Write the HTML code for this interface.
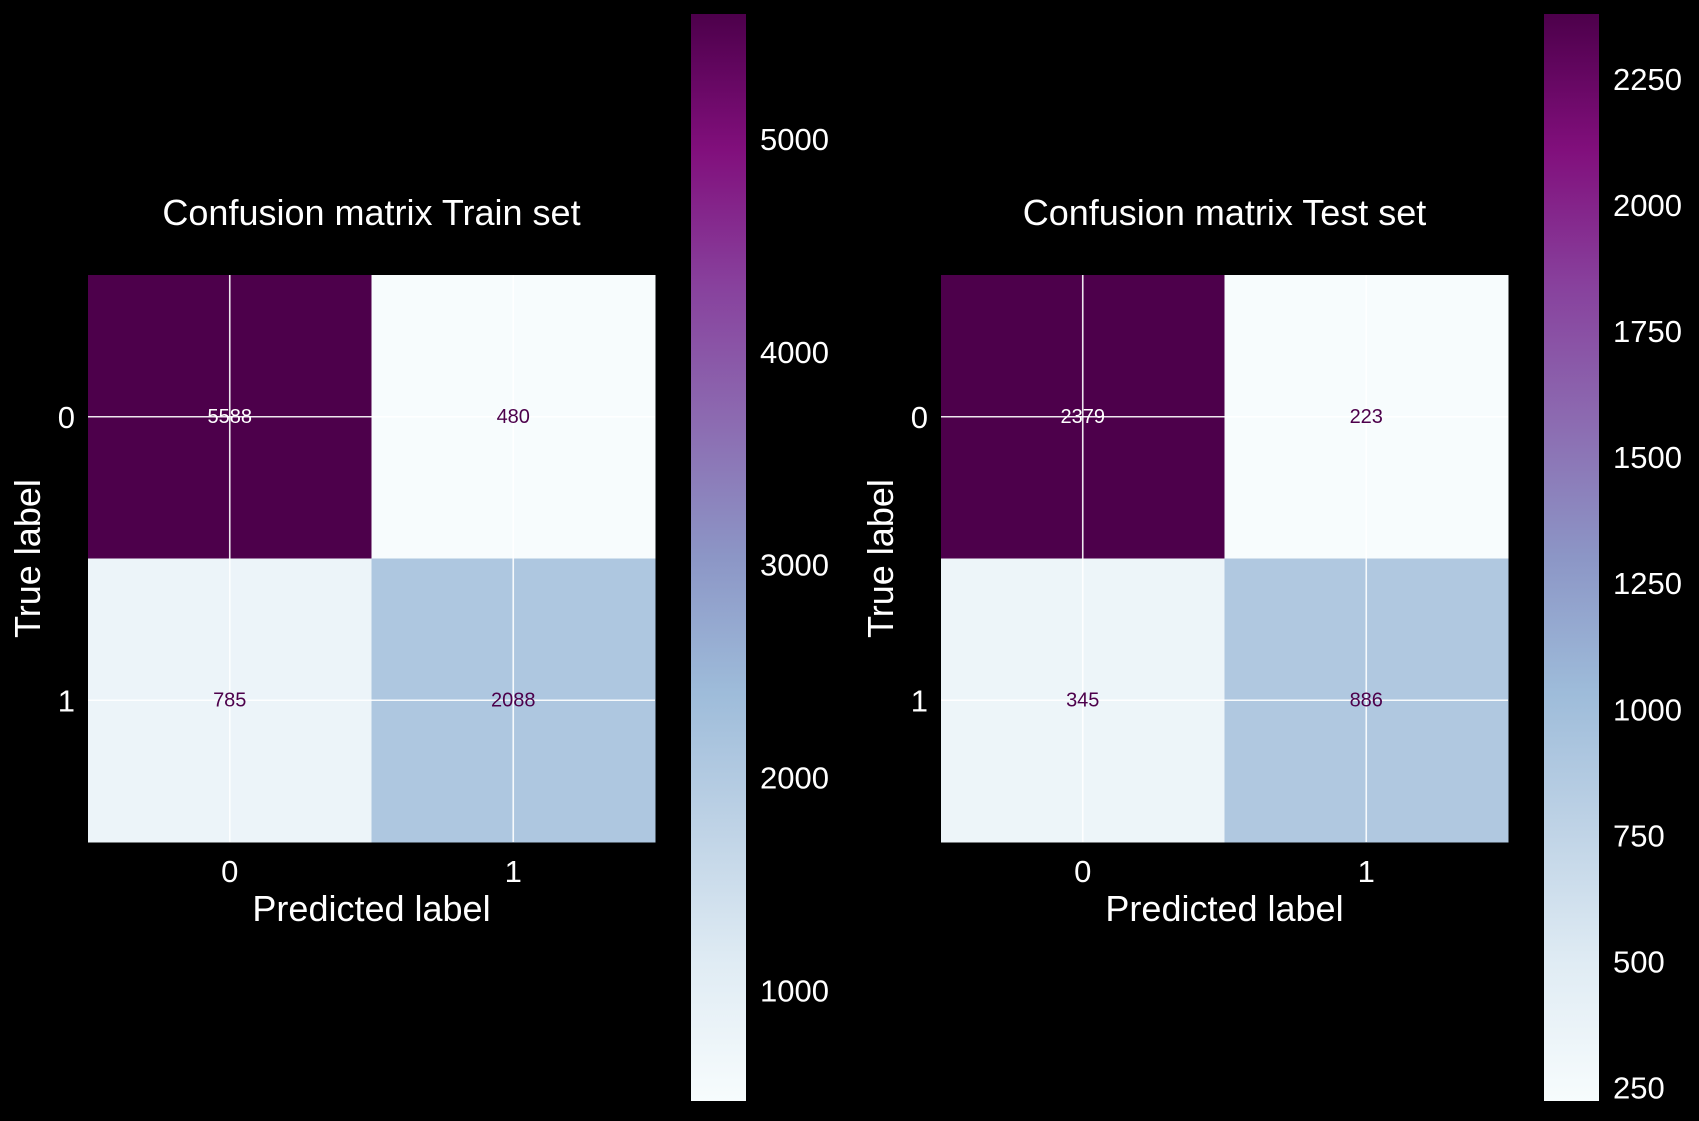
<!DOCTYPE html>
<html><head><meta charset="utf-8"><style>
html,body{margin:0;padding:0;background:#000;}
svg{display:block;}
text{font-family:"Liberation Sans",Arial,sans-serif;}
</style></head><body>
<svg id="chart" width="1699" height="1121" viewBox="0 0 1699 1121">
<defs>
<linearGradient id="bupu" x1="0" y1="1" x2="0" y2="0">
<stop offset="0" stop-color="#f7fcfd"/><stop offset="0.125" stop-color="#e0ecf4"/><stop offset="0.25" stop-color="#bfd3e6"/><stop offset="0.375" stop-color="#9ebcda"/><stop offset="0.5" stop-color="#8c96c6"/><stop offset="0.625" stop-color="#8c6bb1"/><stop offset="0.75" stop-color="#88419d"/><stop offset="0.875" stop-color="#810f7c"/><stop offset="1" stop-color="#4d004b"/>
</linearGradient>
</defs>
</svg>
<script>
const classLabels = ["0", "1"];
const trainValues = [[5588, 480], [785, 2088]];
const testValues = [[2379, 223], [345, 886]];
const trainTicks = [1000, 2000, 3000, 4000, 5000];
const testTicks = [250, 500, 750, 1000, 1250, 1500, 1750, 2000, 2250];
const titles = ["Confusion matrix Train set", "Confusion matrix Test set"];

const NS = "http://www.w3.org/2000/svg";
const svg = document.getElementById("chart");
const stops = ["#f7fcfd","#e0ecf4","#bfd3e6","#9ebcda","#8c96c6","#8c6bb1","#88419d","#810f7c","#4d004b"];
function hex(h){return [1,3,5].map(i=>parseInt(h.substr(i,2),16));}
function cmap(t){
  t=Math.max(0,Math.min(1,t));
  const p=t*(stops.length-1), i=Math.min(Math.floor(p),stops.length-2), f=p-i;
  const a=hex(stops[i]), b=hex(stops[i+1]);
  return "rgb("+a.map((v,k)=>Math.round(v+(b[k]-v)*f)).join(",")+")";
}
function mk(tag, attrs, parent){
  const e=document.createElementNS(NS,tag);
  for(const k in attrs) e.setAttribute(k,attrs[k]);
  (parent||svg).appendChild(e);
  return e;
}
function panel(idx, values, ticks, px, cbx){
  const g=mk("g",{});
  
  
  const top=275, size=567, n=classLabels.length, cell=size/n;
  const flat=values.flat(), vmin=Math.min(...flat), vmax=Math.max(...flat);
  const xS=i=>px+cell*(i+0.5), yS=i=>top+cell*(i+0.5);
  for(let r=0;r<n;r++)for(let c=0;c<n;c++){
    const t=(values[r][c]-vmin)/(vmax-vmin);
    const rc=mk("rect",{x:px+c*cell,y:top+r*cell,width:cell+0.5,height:cell+0.5,fill:cmap(t)},g);
    
    
  }
  for(let i=0;i<n;i++){
    const vl=mk("line",{x1:xS(i),x2:xS(i),y1:top,y2:top+size,stroke:"#fff","stroke-width":1.6,"stroke-opacity":0.9},g);
    
    
    const hl=mk("line",{x1:px,x2:px+size,y1:yS(i),y2:yS(i),stroke:"#fff","stroke-width":1.6,"stroke-opacity":0.9},g);
    
    
  }
  for(let r=0;r<n;r++)for(let c=0;c<n;c++){
    const t=(values[r][c]-vmin)/(vmax-vmin);
    const tx=mk("text",{x:xS(c),y:yS(r)+6,"text-anchor":"middle","font-size":20,fill:t>0.5?"#fff":"#4d004b"},g);
    tx.textContent=values[r][c];
    
    
  }
  for(let i=0;i<n;i++){
    const xt=mk("text",{x:xS(i),y:882,"text-anchor":"middle","font-size":31,fill:"#fff"},g);
    xt.textContent=classLabels[i];
    
    
    const yt=mk("text",{x:px-13,y:yS(i)+11,"text-anchor":"end","font-size":31,fill:"#fff"},g);
    yt.textContent=classLabels[i];
    
    
  }
  const ti=mk("text",{x:px+size/2,y:225,"text-anchor":"middle","font-size":36,fill:"#fff"},g);
  ti.textContent=titles[idx];
  
  
  const xl=mk("text",{x:px+size/2,y:921,"text-anchor":"middle","font-size":36,fill:"#fff"},g);
  xl.textContent="Predicted label";
  
  
  const yl=mk("text",{x:0,y:0,"text-anchor":"middle","font-size":36,fill:"#fff",transform:"translate("+(px-48)+","+(top+size/2)+") rotate(-90)"},g);
  yl.textContent="True label";
  
  
  const cbTop=14, cbBot=1101, cbW=55;
  const cb=mk("rect",{x:cbx,y:cbTop,width:cbW,height:cbBot-cbTop,fill:"url(#bupu)"},g);
  
  
  const cy=v=>cbBot-(v-vmin)/(vmax-vmin)*(cbBot-cbTop);
  ticks.forEach(v=>{
    const ct=mk("text",{x:cbx+cbW+14,y:cy(v)+11,"font-size":31,fill:"#fff"},g);
    ct.textContent=v;
    
    
  });
}
panel(0, trainValues, trainTicks, 88, 691);
panel(1, testValues, testTicks, 941, 1544);
</script>
</body></html>
